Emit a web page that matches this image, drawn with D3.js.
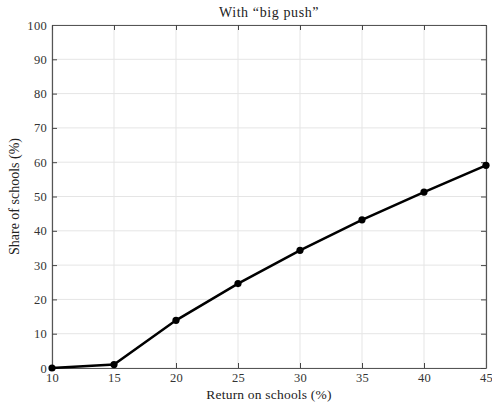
<!DOCTYPE html>
<html>
<head>
<meta charset="utf-8">
<script src="https://cdn.jsdelivr.net/npm/d3@7"></script>
<style>
  body { margin: 0; background: #fff; }
  text { font-family: "Liberation Serif", "DejaVu Serif", serif; }
</style>
</head>
<body>
<svg id="chart"></svg>
<script>
// return on schools (%) and share of schools (%)
var returns = [10, 15, 20, 25, 30, 35, 40, 45];
var shares = [0, 1.0, 13.9, 24.6, 34.3, 43.2, 51.3, 59.1];
var xTicks = [10, 15, 20, 25, 30, 35, 40, 45];
var yTicks = [0, 10, 20, 30, 40, 50, 60, 70, 80, 90, 100];

var width = 492, height = 402;
var margin = { top: 25, right: 6, bottom: 34, left: 52 };

var svg = d3.select("#chart").attr("width", width).attr("height", height);

var x = d3.scaleLinear().domain([10, 45]).range([margin.left, width - margin.right]);
var y = d3.scaleLinear().domain([0, 100]).range([height - margin.bottom, margin.top]);

// grid
svg.append("g")
  .selectAll("line.gx")
  .data(xTicks)
  .enter().append("line")
  .attr("x1", function (d) { return x(d); })
  .attr("x2", function (d) { return x(d); })
  .attr("y1", y(0)).attr("y2", y(100))
  .attr("stroke", "#e5e5e5").attr("stroke-width", 1);
svg.append("g")
  .selectAll("line.gy")
  .data(yTicks)
  .enter().append("line")
  .attr("y1", function (d) { return y(d); })
  .attr("y2", function (d) { return y(d); })
  .attr("x1", x(10)).attr("x2", x(45))
  .attr("stroke", "#e5e5e5").attr("stroke-width", 1);

// axes (ticks inward), plus mirrored box
function styleAxis(g) {
  g.select(".domain").attr("stroke", "#555").attr("stroke-width", 1.2);
  g.selectAll(".tick line").attr("stroke", "#444");
  g.selectAll(".tick text")
    .attr("fill", "#333")
    .attr("font-size", 12.5)
    .attr("letter-spacing", 0.3);
}

svg.append("g")
  .attr("transform", "translate(0," + y(0) + ")")
  .call(d3.axisBottom(x).tickValues(xTicks).tickSizeInner(-5).tickSizeOuter(0).tickPadding(5))
  .call(styleAxis);
svg.append("g")
  .attr("transform", "translate(" + x(10) + ",0)")
  .call(d3.axisLeft(y).tickValues(yTicks).tickSizeInner(-5).tickSizeOuter(0).tickPadding(5))
  .call(styleAxis);
svg.append("g")
  .attr("transform", "translate(0," + y(100) + ")")
  .call(d3.axisTop(x).tickValues(xTicks).tickSizeInner(-5).tickSizeOuter(0).tickFormat(""))
  .call(styleAxis);
svg.append("g")
  .attr("transform", "translate(" + x(45) + ",0)")
  .call(d3.axisRight(y).tickValues(yTicks).tickSizeInner(-5).tickSizeOuter(0).tickFormat(""))
  .call(styleAxis);

// line and markers
var pts = returns.map(function (r, i) { return [r, shares[i]]; });
svg.append("path")
  .datum(pts)
  .attr("fill", "none")
  .attr("stroke", "#000")
  .attr("stroke-width", 2.5)
  .attr("d", d3.line()
    .x(function (d) { return x(d[0]); })
    .y(function (d) { return y(d[1]); }));
svg.append("g")
  .selectAll("circle")
  .data(pts)
  .enter().append("circle")
  .attr("cx", function (d) { return x(d[0]); })
  .attr("cy", function (d) { return y(d[1]); })
  .attr("r", 3.6)
  .attr("fill", "#000");

// labels
svg.append("text")
  .attr("x", (x(10) + x(45)) / 2).attr("y", 17)
  .attr("text-anchor", "middle").attr("font-size", 14).attr("letter-spacing", 0.6)
  .attr("fill", "#222")
  .text("With \u201cbig push\u201d");
svg.append("text")
  .attr("x", (x(10) + x(45)) / 2).attr("y", 399)
  .attr("text-anchor", "middle").attr("font-size", 13.5).attr("letter-spacing", 0.2)
  .attr("fill", "#222")
  .text("Return on schools (%)");
svg.append("text")
  .attr("transform", "translate(19," + (y(0) + y(100)) / 2 + ") rotate(-90)")
  .attr("text-anchor", "middle").attr("font-size", 14).attr("fill", "#222")
  .text("Share of schools (%)");
</script>
</body>
</html>
